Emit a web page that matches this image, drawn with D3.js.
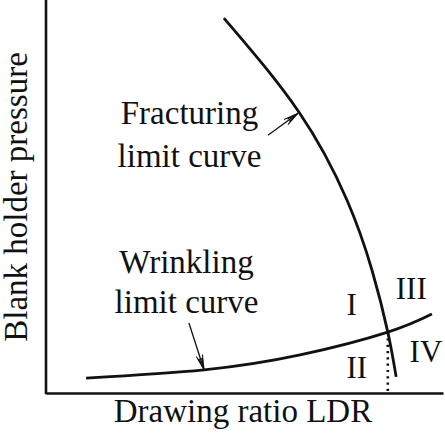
<!DOCTYPE html>
<html>
<head>
<meta charset="utf-8">
<script src="https://cdn.jsdelivr.net/npm/d3@7"></script>
<style>
  html, body { margin: 0; padding: 0; background: #fff; }
  svg { display: block; }
</style>
</head>
<body>
<svg id="chart" width="445" height="436"></svg>
<script>
// ---- Data (abstract units: LDR on x, blank holder pressure on y) ----
const fractureLDR = [44.8, 63.7, 75.8, 82.1, 86.1, 88.2];
const fracturePressure = [95.4, 71.5, 49.1, 31.3, 15.5, 4.1];
const wrinkleLDR = [10.1, 39.8, 64.0, 86.1, 97.2];
const wrinklePressure = [3.8, 5.9, 9.7, 15.5, 20.1];
const limitLDR = [86.1, 86.1];
const limitPressure = [15.5, 0];
const regionLabels = ["I", "II", "III", "IV"];
const regionLDR = [77.0, 78.3, 92.0, 95.7];
const regionPressure = [19.8, 3.8, 24.0, 7.9];
const curveLabels = [["Fracturing", "limit curve"], ["Wrinkling", "limit curve"]];
const xTitle = "Drawing ratio LDR";
const yTitle = "Blank holder pressure";

const FONT = '"Liberation Serif"';

const svg = d3.select("#chart");
const x = d3.scaleLinear().domain([0, 100]).range([46, 443]);
const y = d3.scaleLinear().domain([0, 100]).range([393, 0]);

// axes (plain lines, no ticks)
const xAxis = d3.axisBottom(x).tickValues([]).tickSizeOuter(0);
const yAxis = d3.axisLeft(y).tickValues([]).tickSizeOuter(0);
svg.append("g").attr("transform", `translate(0,${y(0)})`).call(xAxis)
  .select(".domain").attr("stroke", "#111").attr("stroke-width", 2.6);
svg.append("g").attr("transform", `translate(${x(0)},0)`).call(yAxis)
  .select(".domain").attr("stroke", "#111").attr("stroke-width", 2.6)
  .attr("d", `M0,${y(0) + 1.3}V0`);

const line = d3.line().x(d => x(d[0])).y(d => y(d[1])).curve(d3.curveNatural);

const fracture = d3.zip(fractureLDR, fracturePressure);
const wrinkle = d3.zip(wrinkleLDR, wrinklePressure);

svg.append("path").datum(fracture).attr("d", line)
  .attr("fill", "none").attr("stroke", "#111").attr("stroke-width", 2.8);
svg.append("path").datum(wrinkle).attr("d", line)
  .attr("fill", "none").attr("stroke", "#111").attr("stroke-width", 2.8);

// dotted vertical line at intersection
svg.append("path").datum(d3.zip(limitLDR, limitPressure))
  .attr("d", d3.line().x(d => x(d[0])).y(d => y(d[1])))
  .attr("stroke", "#111").attr("stroke-width", 2.6)
  .attr("stroke-dasharray", "2.2,4.1").attr("fill", "none");

// arrow marker
svg.append("defs").append("marker")
  .attr("id", "arr").attr("markerUnits", "userSpaceOnUse")
  .attr("viewBox", "-16 -6 18 12").attr("refX", 0).attr("refY", 0)
  .attr("markerWidth", 18).attr("markerHeight", 12).attr("orient", "auto")
  .append("path").attr("d", "M-15,-3.2 L0,0 L-15,3.2 M-12,-1.4 L0,0 L-12,1.4")
  .attr("fill", "none").attr("stroke", "#111").attr("stroke-width", 1.1);

const arrows = [
  [[55.9, 65.6], [63.5, 71.2]],
  [[36.0, 17.8], [39.8, 5.9]]
];
arrows.forEach(a => {
  svg.append("line")
    .attr("x1", x(a[0][0])).attr("y1", y(a[0][1]))
    .attr("x2", x(a[1][0])).attr("y2", y(a[1][1]))
    .attr("stroke", "#111").attr("stroke-width", 1.3)
    .attr("marker-end", "url(#arr)");
});

function txt(sel) {
  return sel.style("font-family", FONT).attr("fill", "#111");
}

// curve labels
const labelPos = [
  { cx: 189.5, base: [124.3, 166.5] },
  { cx: 186.5, base: [273, 313] }
];
curveLabels.forEach((lines, i) => {
  lines.forEach((t, j) => {
    txt(svg.append("text")).attr("x", labelPos[i].cx).attr("y", labelPos[i].base[j])
      .attr("text-anchor", "middle").style("font-size", "33px").text(t);
  });
});

// region numerals
regionLabels.forEach((t, i) => {
  txt(svg.append("text")).attr("x", x(regionLDR[i])).attr("y", y(regionPressure[i]))
    .attr("text-anchor", "middle").style("font-size", "31px").text(t);
});

// axis titles
txt(svg.append("text")).attr("x", 243).attr("y", 421.5).attr("text-anchor", "middle")
  .style("font-size", "33px").text(xTitle);
txt(svg.append("text")).attr("transform", "translate(26.5,197) rotate(-90)")
  .attr("text-anchor", "middle").style("font-size", "33px").text(yTitle);
</script>
</body>
</html>
